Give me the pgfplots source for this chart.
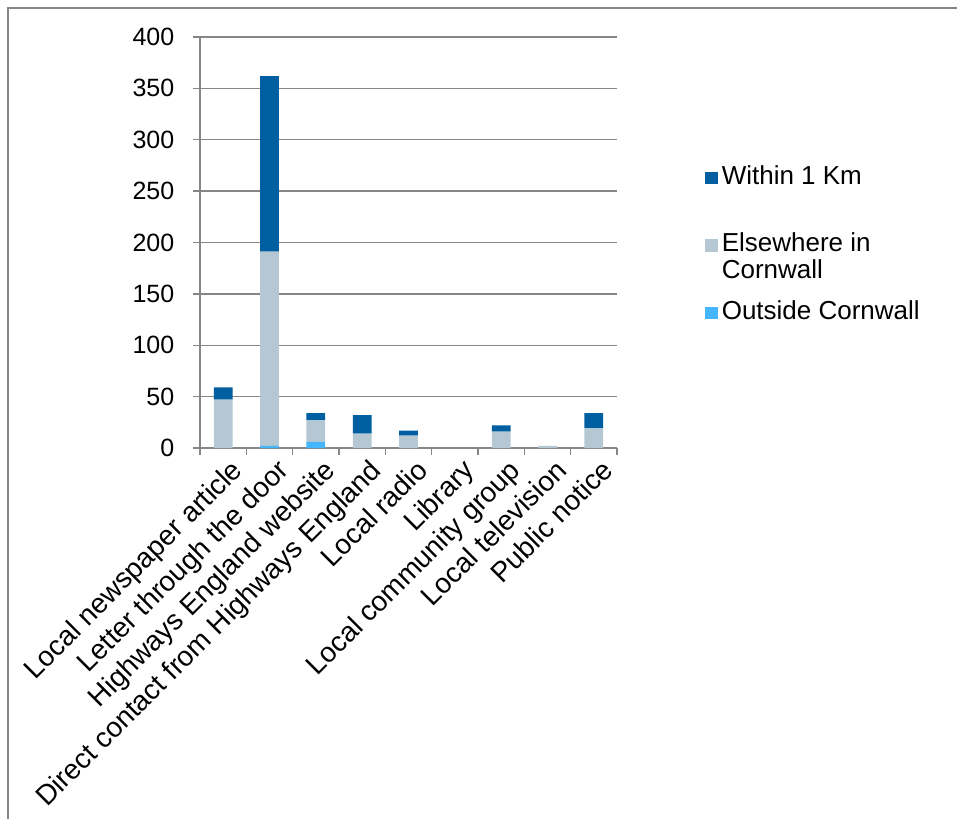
\documentclass[border=0pt]{standalone}
\usepackage{pgfplots}
\pgfplotsset{compat=1.18}
\usepackage{fontspec}
\setmainfont{Liberation Sans}

\definecolor{within}{HTML}{005FA0}
\definecolor{elsewhere}{HTML}{B4C7D2}
\definecolor{outside}{HTML}{45B6FE}
\definecolor{axisgray}{HTML}{868686}

% How respondents heard about the scheme, by where they live
\pgfplotstableread{
idx outside elsewhere within
0   0   47  12
1   2   189 171
2   6   21  7
3   0   14  18
4   0   12  5
5   0   0   0
6   0   16  6
7   0   2   0
8   0   19  15
}\sources

% legend text: baseline on the first line, every entry two lines deep
\newcommand{\lgd}[1]{\begin{tabular}[t]{@{}l@{}}#1\end{tabular}}

\begin{document}
\fontsize{12.5}{13.5}\selectfont
\begin{tikzpicture}
\useasboundingbox (-100pt,-185pt) rectangle (378.5pt,224pt);
\draw[axisgray, line width=1pt] (-96pt,-190pt) -- (-96pt,220pt) -- (382pt,220pt);
\begin{axis}[
  anchor=south west,
  scale only axis,
  width=208.5pt, height=205.5pt,
  ybar stacked, bar width=9.35pt,
  xmin=-0.5, xmax=8.5, ymin=0, ymax=400,
  axis x line*=bottom, axis y line*=left,
  axis line style={axisgray, line width=0.75pt},
  xtick={0,...,8},
  xticklabels={Local newspaper article, Letter through the door,
    Highways England website, Direct contact from Highways England,
    Local radio, Library, Local community group, Local television,
    Public notice},
  minor xtick={-0.5,0.5,...,8.5},
  ytick={0,50,...,400},
  ymajorgrids,
  major grid style={axisgray, line width=0.75pt},
  tick align=outside,
  major tick length=3.5pt, minor tick length=3.5pt,
  major x tick style={draw=none},
  minor x tick style={axisgray, line width=0.75pt},
  major y tick style={axisgray, line width=0.75pt},
  /pgf/number format/assume math mode=true,
  yticklabel style={xshift=-5pt, font=\fontsize{12.5}{13.5}\selectfont},
  xticklabel style={rotate=45, anchor=north east, inner sep=1pt,
    xshift=2.5pt, yshift=-2pt, font=\fontsize{14}{15}\selectfont},
  reverse legend,
  legend style={at={(1,1)}, anchor=north west, xshift=41pt, yshift=-60pt,
    draw=none, fill=none, row sep=2.75pt,
    nodes={text depth=},
    cells={anchor=base west},
    font=\fontsize{13}{13.5}\selectfont},
  legend image code/.code={\fill[#1] (0pt,0pt) rectangle (6.2pt,6.2pt);},
]
\addplot[fill=outside, draw=none] table[x=idx, y=outside] {\sources};
\addlegendentry{\lgd{Outside Cornwall}}
\addplot[fill=elsewhere, draw=none] table[x=idx, y=elsewhere] {\sources};
\addlegendentry{\lgd{Elsewhere in\\Cornwall}}
\addplot[fill=within, draw=none] table[x=idx, y=within] {\sources};
\addlegendentry{\lgd{Within 1 Km\\{}}}
\end{axis}
\end{tikzpicture}
\end{document}
